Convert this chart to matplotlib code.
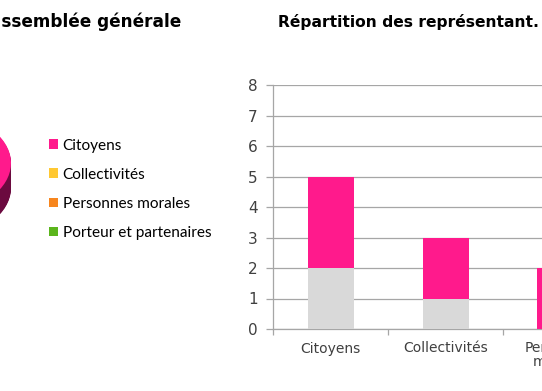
import matplotlib
matplotlib.use("Agg")
import matplotlib.pyplot as plt
import numpy as np

# ---- data ----
categories = ["Citoyens", "Collectivités", "Personnes\nmorales"]
grey_values = [2, 1, 0]
pink_values = [3, 2, 2]
y_ticks = [0, 1, 2, 3, 4, 5, 6, 7, 8]

pie_labels = ["Citoyens", "Collectivités", "Personnes morales", "Porteur et partenaires"]
pie_values = [5, 3, 2, 1]
pie_colors = ["#FF1A8C", "#FFC832", "#F7861E", "#5BB51C"]
pie_dark = ["#6B0A3F", "#8A6A10", "#8A4A10", "#2F6A0E"]

left_title = "Composition de l\u2019assemblée générale"
right_title = "Répartition des représentant."

W, H = 542, 391
fig = plt.figure(figsize=(W / 100, H / 100), dpi=100)

def px(x0, y0_top, w, h):
    """pixel box (left, top, width, height) -> figure fraction rect"""
    return [x0 / W, (H - y0_top - h) / H, w / W, h / H]

# ---- bar chart ----
ax = fig.add_axes(px(273, 85, 345, 244))
x = np.arange(len(categories))
ax.bar(x, grey_values, width=0.4, color="#D9D9D9", zorder=3)
ax.bar(x, pink_values, width=0.4, bottom=grey_values, color="#FF1A8C", zorder=3)
ax.set_xlim(-0.5, len(categories) - 0.5)
ax.set_ylim(0, 8)
ax.set_yticks(y_ticks)
ax.yaxis.grid(True, color="#A6A6A6", linewidth=0.9, zorder=0)
for s in ["top", "right"]:
    ax.spines[s].set_visible(False)
for s in ["left", "bottom"]:
    ax.spines[s].set_color("#A6A6A6")
    ax.spines[s].set_linewidth(0.9)
ax.set_xticks(x)
ax.set_xticklabels(categories, fontsize=10, color="#404040", linespacing=1.0)
ax.set_xticks(np.arange(-0.5, len(categories), 1.0), minor=True)
ax.tick_params(axis="x", which="major", length=0, pad=9)
ax.tick_params(axis="x", which="minor", length=4, color="#A6A6A6", width=0.9)
ax.tick_params(axis="y", length=5, color="#A6A6A6", width=0.9, labelsize=11,
               labelcolor="#404040", pad=6)
for lbl in ax.get_xticklabels():
    lbl.set_multialignment("center")

# ---- pie (3D look, mostly outside the figure) ----
rx, ry = 71, 49
cx, cy = -60, 163
depth = 0.51
axp = fig.add_axes(px(cx - rx, cy - ry, 2 * rx, (2 + depth) * ry))
for d in np.linspace(depth, 0.02, 30):
    axp.pie(pie_values, colors=pie_dark, startangle=90, counterclock=False,
            center=(0, -d), radius=1.0, wedgeprops=dict(linewidth=0))
axp.pie(pie_values, colors=pie_colors, startangle=90, counterclock=False,
        center=(0, 0), radius=1.0, wedgeprops=dict(linewidth=0))
axp.set_aspect("auto")
axp.set_xlim(-1, 1)
axp.set_ylim(-1 - depth, 1)
axp.axis("off")

# ---- legend ----
from matplotlib.patches import Patch
handles = [Patch(facecolor=c, edgecolor="none") for c in pie_colors]
fig.legend(handles, pie_labels, loc="upper left", bbox_to_anchor=(41 / W, 1 - 131 / H),
           frameon=False, handlelength=0.6, handleheight=0.6,
           handletextpad=0.3, labelspacing=0.98, borderpad=0,
           prop={"family": "Lato", "size": 11.1})

# ---- titles ----
fig.text(181 / W, 1 - 22 / H, left_title, ha="right", va="center",
         fontsize=12.2, fontweight="bold", color="#000000")
fig.text(278 / W, 1 - 22 / H, right_title, ha="left", va="center",
         fontsize=11.2, fontweight="bold", color="#000000")

fig.savefig("out.png", dpi=100)
